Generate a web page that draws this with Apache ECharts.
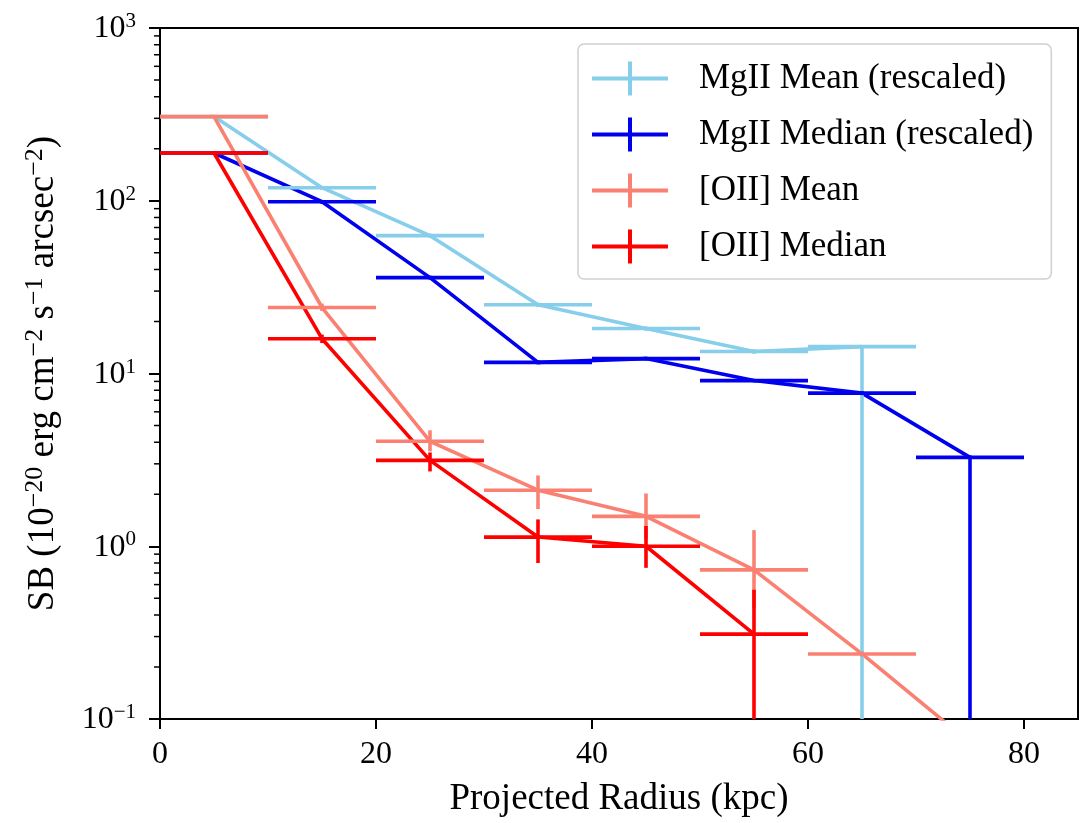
<!DOCTYPE html>
<html>
<head>
<meta charset="utf-8">
<script src="https://cdn.jsdelivr.net/npm/echarts@6/dist/echarts.min.js"></script>
<style>
  html, body { margin: 0; padding: 0; background: #fff; }
  #chart { width: 1082px; height: 823px; }
</style>
</head>
<body>
<div id="chart"></div>
<script>
// radial bins (kpc), each bin is 10 kpc wide
const binHalfWidth = 5;

const mgMeanX = [5, 15, 25, 35, 45, 55, 65];
const mgMean = [307, 119, 62.8, 25, 18.2, 13.4, 14.3];
const mgMeanLow = [300, 116, 61, 24.3, 17.7, 13.0, 0.001];
const mgMeanHigh = [314, 122, 64.5, 25.7, 18.7, 13.8, 14.6];

const mgMedianX = [5, 15, 25, 35, 45, 55, 65, 75];
const mgMedian = [189, 98.7, 35.9, 11.6, 12.2, 9.1, 7.7, 3.27];
const mgMedianLow = [185, 96, 35, 11.3, 11.9, 8.9, 7.5, 0.001];
const mgMedianHigh = [193, 101, 36.8, 11.9, 12.5, 9.3, 7.9, 3.35];

const oiiMeanX = [5, 15, 25, 35, 45, 55, 65, 75];
const oiiMean = [307, 24.1, 4.05, 2.11, 1.49, 0.73, 0.238, 0.073];
const oiiMeanLow = [300, 23, 3.54, 1.64, 1.1, 0.44, 0.23, 0.07];
const oiiMeanHigh = [314, 25.4, 4.69, 2.57, 2.02, 1.24, 0.246, 0.076];

const oiiMedianX = [5, 15, 25, 35, 45, 55];
const oiiMedian = [189, 15.9, 3.14, 1.13, 1.0, 0.31];
const oiiMedianLow = [185, 15.0, 2.71, 0.80, 0.75, 0.001];
const oiiMedianHigh = [193, 16.8, 3.49, 1.43, 1.31, 0.56];

const xTicks = [0, 20, 40, 60, 80];
const yTicks = [0.1, 1, 10, 100, 1000];
const minorMantissas = [2, 3, 4, 5, 6, 7, 8, 9];
const decades = [0.1, 1, 10, 100];

const names = ['MgII Mean (rescaled)', 'MgII Median (rescaled)', '[OII] Mean', '[OII] Median'];
const colors = ['#87CEEB', '#0000EE', '#FA8072', '#FF0000'];

const FONT = '"Liberation Serif", "DejaVu Serif", serif';
const crossIcon = 'path://M0,15 L76,15 L76,19 L0,19 Z M36,0 L40,0 L40,34 L36,34 Z';

function pairs(xs, ys) {
  return xs.map((x, i) => [x, ys[i]]);
}

function errRows(xs, ys, lo, hi) {
  return xs.map((x, i) => [x, ys[i], lo[i], hi[i]]);
}

function lineSeries(name, color, xs, ys) {
  return {
    name, type: 'line', data: pairs(xs, ys),
    symbol: 'none', color,
    lineStyle: { color, width: 3.6 },
    clip: true, z: 3, silent: true,
  };
}

function errorSeries(name, color, rows) {
  return {
    name, type: 'custom', data: rows, clip: true, z: 4, silent: true,
    itemStyle: { color },
    renderItem: (params, api) => {
      const x = api.value(0), y = api.value(1);
      const left = api.coord([x - binHalfWidth, y]);
      const right = api.coord([x + binHalfWidth, y]);
      const top = api.coord([x, api.value(3)]);
      const bot = api.coord([x, api.value(2)]);
      const style = { stroke: color, lineWidth: 3.6 };
      return {
        type: 'group',
        children: [
          { type: 'line', shape: { x1: left[0], y1: left[1], x2: right[0], y2: right[1] }, style },
          { type: 'line', shape: { x1: top[0], y1: top[1], x2: bot[0], y2: bot[1] }, style },
        ],
      };
    },
  };
}

const minorTicks = [];
decades.forEach(d => minorMantissas.forEach(m => minorTicks.push([0, m * d])));

const tickBase = { fontFamily: FONT, fontSize: 32, color: '#000', verticalAlign: 'bottom', lineHeight: 34 };
const tickSup = { fontFamily: FONT, fontSize: 21, color: '#000', verticalAlign: 'top', lineHeight: 34 };
const nameBase = { fontFamily: FONT, fontSize: 37, color: '#000', verticalAlign: 'bottom', lineHeight: 40 };
const nameSup = { fontFamily: FONT, fontSize: 26, color: '#000', verticalAlign: 'top', lineHeight: 40 };

const chart = echarts.init(document.getElementById('chart'), null, { renderer: 'canvas' });

chart.setOption({
  backgroundColor: '#fff',
  animation: false,
  grid: {
    left: 160, right: 4, top: 28, bottom: 103,
    show: true, borderColor: '#000', borderWidth: 2, backgroundColor: 'transparent',
  },
  legend: {
    left: 578, top: 44, orient: 'vertical',
    selectedMode: false,
    backgroundColor: '#fff',
    borderColor: '#d0d0d0', borderWidth: 1.5, borderRadius: 6,
    padding: [17, 18, 15, 14],
    itemWidth: 76, itemHeight: 34, itemGap: 21,
    textStyle: { fontFamily: FONT, fontSize: 35, lineHeight: 34, color: '#000', padding: [0, 0, 0, 26] },
    data: names.map((n, i) => ({ name: n, icon: crossIcon, itemStyle: { color: colors[i], borderWidth: 0 } })),
  },
  xAxis: {
    type: 'value', min: 0, max: 85, interval: 20,
    name: 'Projected Radius (kpc)', nameLocation: 'middle', nameGap: 62,
    nameTextStyle: { fontFamily: FONT, fontSize: 37, color: '#000' },
    axisLine: { show: true, lineStyle: { color: '#000', width: 2 } },
    axisTick: { show: true, length: 10, inside: false, customValues: xTicks, lineStyle: { color: '#000', width: 2 } },
    axisLabel: { customValues: xTicks, fontFamily: FONT, fontSize: 32, color: '#000', margin: 20 },
    splitLine: { show: false },
  },
  yAxis: {
    type: 'log', logBase: 10, min: 0.1, max: 1000,
    name: '{n|SB (10}{s|−20}{n| erg cm}{s|−2}{n| s}{s|−1}{n| arcsec}{s|−2}{n|)}',
    nameLocation: 'middle', nameRotate: 90, nameGap: 98,
    nameTextStyle: { rich: { n: nameBase, s: nameSup } },
    axisLine: { show: true, lineStyle: { color: '#000', width: 2 } },
    axisTick: { show: true, length: 11, customValues: yTicks, lineStyle: { color: '#000', width: 2 } },
    axisLabel: {
      customValues: yTicks, margin: 24,
      formatter: v => {
        const e = Math.round(Math.log10(v));
        return '{b|10}{s|' + (e < 0 ? '−' + (-e) : e) + '}';
      },
      rich: { b: tickBase, s: tickSup },
    },
    splitLine: { show: false },
  },
  series: [
    {
      type: 'custom', data: minorTicks, clip: false, silent: true, z: 5,
      renderItem: (params, api) => {
        const p = api.coord([api.value(0), api.value(1)]);
        return { type: 'line', shape: { x1: p[0] - 6, y1: p[1], x2: p[0], y2: p[1] }, style: { stroke: '#000', lineWidth: 1.5 } };
      },
    },
    lineSeries(names[0], colors[0], mgMeanX, mgMean),
    errorSeries(names[0], colors[0], errRows(mgMeanX, mgMean, mgMeanLow, mgMeanHigh)),
    lineSeries(names[1], colors[1], mgMedianX, mgMedian),
    errorSeries(names[1], colors[1], errRows(mgMedianX, mgMedian, mgMedianLow, mgMedianHigh)),
    lineSeries(names[2], colors[2], oiiMeanX, oiiMean),
    errorSeries(names[2], colors[2], errRows(oiiMeanX, oiiMean, oiiMeanLow, oiiMeanHigh)),
    lineSeries(names[3], colors[3], oiiMedianX, oiiMedian),
    errorSeries(names[3], colors[3], errRows(oiiMedianX, oiiMedian, oiiMedianLow, oiiMedianHigh)),
  ],
});

window.addEventListener('resize', () => chart.resize());
</script>
</body>
</html>
